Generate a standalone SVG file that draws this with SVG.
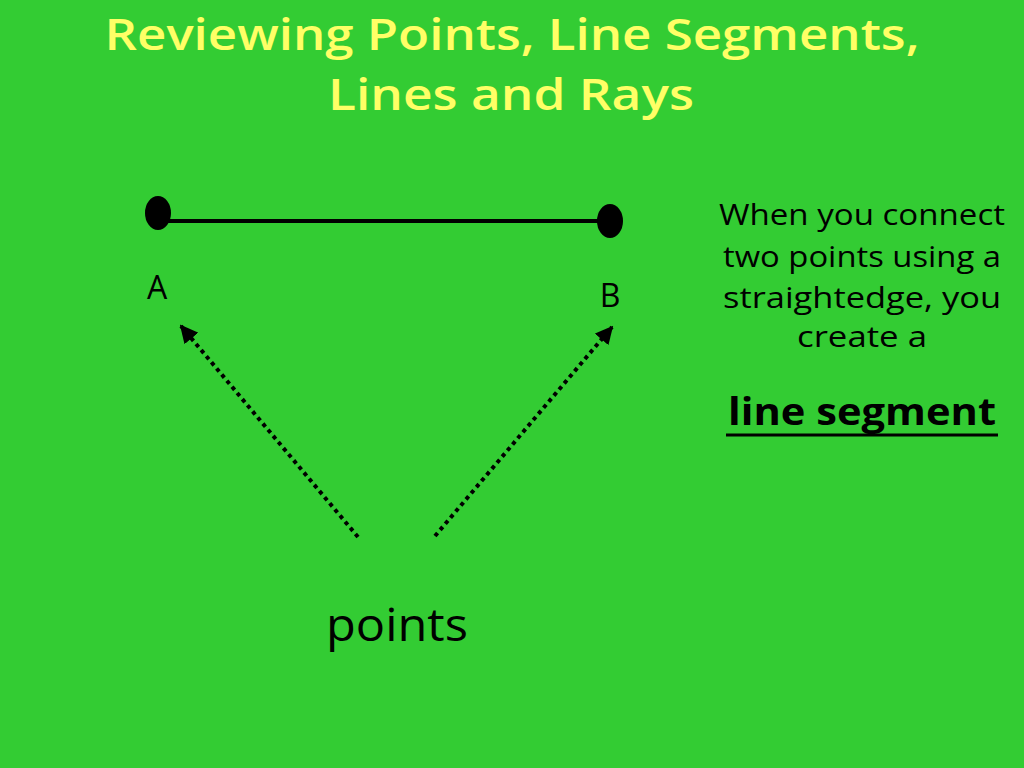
<svg xmlns="http://www.w3.org/2000/svg" width="1024" height="768" viewBox="0 0 1024 768">
<defs>
<style>
.t{font-family:"Comic Sans MS","Open Sans","DejaVu Sans",sans-serif;}
.title{font-size:44px;font-weight:600;fill:#FFFF66;text-anchor:middle;}
.body{font-size:30px;fill:#000;text-anchor:middle;}
.lbl{font-size:32px;fill:#000;text-anchor:middle;}
.dot{fill:#000;}
.arr{stroke:#000;stroke-width:4;stroke-dasharray:4 4;fill:none;}
</style>
<marker id="ah" viewBox="0 0 10 10" refX="9" refY="5" markerWidth="4.5" markerHeight="4.5" orient="auto" markerUnits="strokeWidth">
<path d="M0,0 L10,5 L0,10 z" fill="#000"/>
</marker>
</defs>
<rect width="1024" height="768" fill="#33CC33"/>
<g id="title" class="t">
<text class="title" x="512" y="50" textLength="815" lengthAdjust="spacingAndGlyphs">Reviewing Points, Line Segments,</text>
<text class="title" x="511" y="110" textLength="366" lengthAdjust="spacingAndGlyphs">Lines and Rays</text>
</g>
<g id="segment">
<line x1="165" y1="221" x2="605" y2="221" stroke="#000" stroke-width="4"/>
</g>
<g id="pointA">
<ellipse class="dot" cx="158" cy="213" rx="13" ry="17"/>
<text class="t lbl" x="157" y="299">A</text>
</g>
<g id="pointB">
<ellipse class="dot" cx="610" cy="221" rx="13" ry="17"/>
<text class="t lbl" x="610" y="307">B</text>
</g>
<g id="description" class="t">
<text class="body" x="862" y="225" textLength="286" lengthAdjust="spacingAndGlyphs">When you connect</text>
<text class="body" x="862" y="267" textLength="278" lengthAdjust="spacingAndGlyphs">two points using a</text>
<text class="body" x="862" y="308" textLength="278" lengthAdjust="spacingAndGlyphs">straightedge, you</text>
<text class="body" x="862" y="347" textLength="130" lengthAdjust="spacingAndGlyphs">create a</text>
</g>
<g id="term" class="t">
<text x="862" y="425" font-size="38" font-weight="bold" text-anchor="middle" textLength="268" lengthAdjust="spacingAndGlyphs">line segment</text>
<line x1="726" y1="435" x2="998" y2="435" stroke="#000" stroke-width="3"/>
</g>
<g id="pointsLabel" class="t">
<text x="397" y="641" font-size="46" text-anchor="middle" textLength="142" lengthAdjust="spacingAndGlyphs">points</text>
</g>
<g id="connectors">
<line class="arr" x1="358" y1="537" x2="181" y2="326" marker-end="url(#ah)"/>
<line class="arr" x1="435" y1="536" x2="612" y2="327" marker-end="url(#ah)"/>
</g>
</svg>
